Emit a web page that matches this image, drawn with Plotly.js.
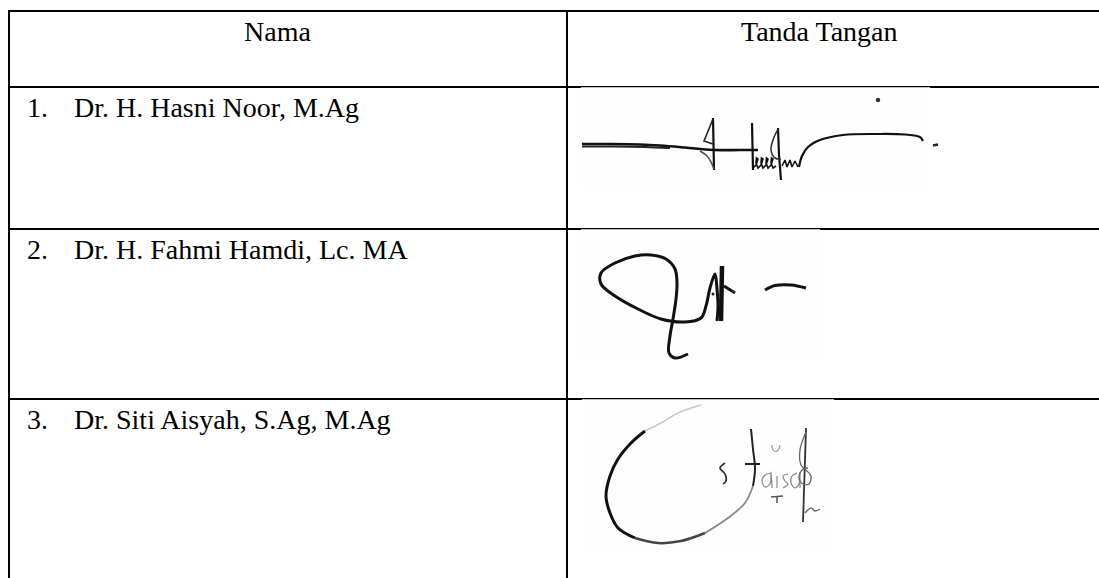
<!DOCTYPE html>
<html><head><meta charset="utf-8">
<script src="https://cdn.plot.ly/plotly-3.0.1.min.js"></script>
<style>html,body{margin:0;padding:0;background:#fff;overflow:hidden}#chart{width:1099px;height:578px}</style>
</head><body><div id="chart"></div>
<script>
// ---- table content ----
const headers = ["Nama", "Tanda Tangan"];
const rowNumbers = ["1.", "2.", "3."];
const names = ["Dr. H. Hasni Noor, M.Ag", "Dr. H. Fahmi Hamdi, Lc. MA", "Dr. Siti Aisyah, S.Ag, M.Ag"];

// ---- signature strokes (page pixel units) ----
const sig1Strokes = [
  [[582,144],[610,144],[640,144.5],[660,145.5],[685,147.5],[713,150],[740,150],[758,150]],
  [[582,146.5],[615,146.5],[645,147],[670,148]],
  [[713,118],[713.5,145],[714,170]],
  [[713,119],[708,131],[704,141],[713,144]],
  [[700,151],[707,156],[711,162],[714,169]],
  [[752,123],[752.5,150],[753,170]],
  [[753,168],[756,165],[758,159],[756.5,158],[756,163],[758,168],[761,165],[763,159],[761.5,158],[761,163],[763,168],[766,165],[768,159],[766.5,158],[766,163],[768,168],[771,165],[773,159],[771.5,158],[771,163],[773,168],[776,166]],
  [[778,128],[779,155],[781,180]],
  [[778,129],[773,140],[771,150],[775,158],[781,159]],
  [[782,166],[785,160],[787,167],[790,160],[792,167],[795,161],[798,167]],
  [[799,167],[802,156],[808,147],[820,140],[843,135],[877,134],[905,134.5],[920,137],[923,141]],
  [[878,100]],
  [[933,145.5],[938,144.5]]
];
const sig2Strokes = [
  [[688,354],[675,358],[669,353],[670,336],[673,319],[676,299],[677,283],[675,269],[666,259],[651,255],[635,256],[615,263],[601,273],[601,284],[615,296],[638,309],[661,319],[685,322],[701,318],[706,306],[710,288],[715,274],[717,289],[718,306],[717,321]],
  [[722,266],[722,295],[721,321]],
  [[724,286],[735,293]],
  [[713,294]],
  [[765,290],[775,285.5],[791,285],[806,288]]
];
const sig3Strokes = [
  [[701,405],[678,413],[661,423],[645,431]],
  [[645,431],[631,443],[618,459],[610,476],[606,496],[610,513],[618,528],[635,538]],
  [[635,538],[658,543],[681,541],[705,533]],
  [[705,533],[728,518],[745,503],[753,486]],
  [[753,486],[755,469],[753,449],[751,429]],
  [[745,464],[760,464]],
  [[725,463],[720,468],[725,474],[726,481],[723,484]],
  [[771,473],[765,475],[762,481],[765,487],[770,484],[771,472],[772,488]],
  [[777,476],[777,488]],
  [[788,474],[783,476],[785,481],[788,484],[783,488]],
  [[797,473],[792,476],[791,483],[795,488],[799,484],[800,472],[800,488]],
  [[772,445],[773,450],[776,451.5],[779,449],[780,445]],
  [[771,497],[783,496]],
  [[777,496],[777,503]],
  [[806,428],[805,460],[804,490],[803,522]],
  [[806,432],[800,450],[801,465],[806,470],[811,476],[809,484],[803,484],[799,478],[802,470],[808,468]],
  [[805,513],[811,508],[815,511],[820,509]]
];

// ---- styles (kept apart from data) ----
const sig1Widths = [2.6,2,2.2,1.6,1.6,2.2,1.6,2.2,1.6,1.6,2.2,4.5,2.8];
const sig1Colors = ["#111","#222","#111","#222","#555","#111","#111","#111","#333","#111","#111","#333","#222"];
const sig1Smooth = [true,true,false,false,true,false,false,false,true,false,true,false,false];
const sig2Widths = [3,4.5,3,3,3];
const sig2Colors = ["#111","#111","#111","#222","#111"];
const sig2Smooth = [true,false,false,false,true];
const sig3Widths = [1.5,3,2.5,1.8,2,2,1.8,1.2,1.2,1.2,1.2,1.2,1.5,1.5,1.8,1.3,1.3];
const sig3Colors = ["#c8c8c8","#111","#444","#888","#222","#222","#333","#888","#888","#888","#888","#999","#555","#555","#333","#666","#666"];
const sig3Smooth = [true,true,true,true,true,false,true,true,false,true,true,true,false,false,true,true,true];

// ---- page geometry ----
const W = 1099, H = 578;
const columnEdges = [9, 567];
const rowEdges = [11, 87, 229, 399];
const headerCenters = [277, 819];
const numberX = 25, nameX = 72;
const signatureBoxes = [[581,87.2,930,190],[581,229.2,820,362],[582,399.2,834,548]];
const FONT = {family: "Liberation Serif, Times New Roman, serif", size: 28, color: "#000"};

const traces = [];
function addStrokes(strokes, widths, colors, smooth) {
  strokes.forEach((s, i) => {
    const xs = s.map(p => p[0]), ys = s.map(p => p[1]);
    if (s.length === 1) {
      traces.push({type:"scatter", mode:"markers", x:xs, y:ys, hoverinfo:"skip",
        marker:{size:widths[i], color:colors[i]}});
    } else {
      traces.push({type:"scatter", mode:"lines", x:xs, y:ys, hoverinfo:"skip",
        line:{width:widths[i], color:colors[i], shape: smooth[i] ? "spline" : "linear", smoothing: 1}});
    }
  });
}
addStrokes(sig1Strokes, sig1Widths, sig1Colors, sig1Smooth);
addStrokes(sig2Strokes, sig2Widths, sig2Colors, sig2Smooth);
addStrokes(sig3Strokes, sig3Widths, sig3Colors, sig3Smooth);

const shapes = [];
rowEdges.forEach(y => shapes.push({type:"line", xref:"x", yref:"y", x0:columnEdges[0]-1, x1:W, y0:y, y1:y, line:{color:"#000", width:2}, layer:"below"}));
columnEdges.forEach(x => shapes.push({type:"line", xref:"x", yref:"y", x0:x, x1:x, y0:rowEdges[0]-1, y1:H, line:{color:"#000", width:2}, layer:"below"}));
signatureBoxes.forEach(b => shapes.push({type:"rect", xref:"x", yref:"y", x0:b[0], y0:b[1], x1:b[2], y1:b[3], line:{width:0}, fillcolor:"#fefefe", layer:"below"}));

const annotations = [];
headers.forEach((h, i) => annotations.push({x:headerCenters[i], y:rowEdges[0]+20, xref:"x", yref:"y", text:h, showarrow:false, xanchor:"center", yanchor:"middle", font:FONT}));
names.forEach((n, i) => {
  const yc = rowEdges[i+1] + 20.5;
  annotations.push({x:numberX, y:yc, xref:"x", yref:"y", text:rowNumbers[i], showarrow:false, xanchor:"left", yanchor:"middle", font:FONT});
  annotations.push({x:nameX, y:yc, xref:"x", yref:"y", text:n, showarrow:false, xanchor:"left", yanchor:"middle", font:FONT});
});

const layout = {
  width: W, height: H, margin:{l:0,r:0,t:0,b:0,pad:0},
  paper_bgcolor:"#fff", plot_bgcolor:"#fff", showlegend:false,
  xaxis:{range:[0,W], visible:false, fixedrange:true},
  yaxis:{range:[H,0], visible:false, fixedrange:true},
  shapes: shapes, annotations: annotations
};
Plotly.newPlot("chart", traces, layout, {staticPlot:true, displayModeBar:false});
</script>
</body></html>
